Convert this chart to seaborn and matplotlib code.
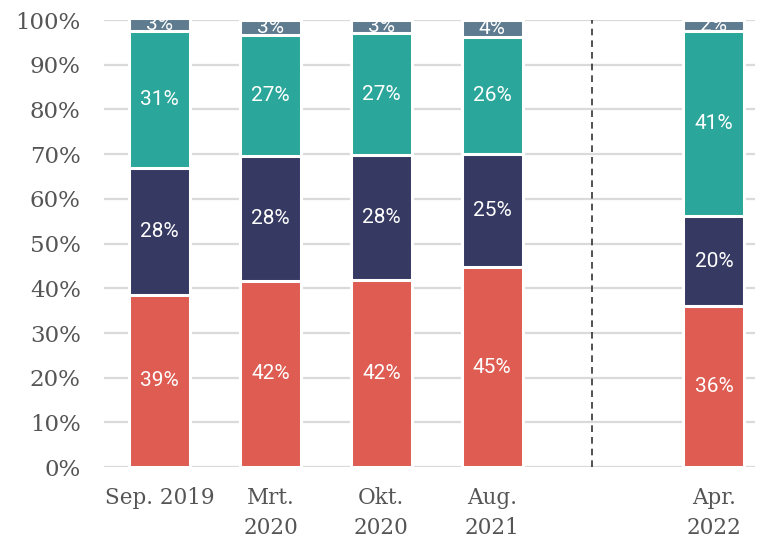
import numpy as np
import pandas as pd
import seaborn as sns
import matplotlib.pyplot as plt

# data
periods = ["Sep. 2019", "Mrt.\n2020", "Okt.\n2020", "Aug.\n2021", "", "Apr.\n2022"]
bar_periods = ["Sep. 2019", "Mrt.\n2020", "Okt.\n2020", "Aug.\n2021", "Apr.\n2022"]
red_vals = [38.6, 41.7, 41.8, 44.7, 36.0]
navy_vals = [28.4, 28.0, 28.0, 25.4, 20.2]
teal_vals = [30.6, 26.9, 27.3, 26.1, 41.3]
slate_vals = [2.9, 3.4, 2.9, 3.8, 2.5]

layers = [red_vals, navy_vals, teal_vals, slate_vals]
colors = ["#DE5C51", "#363962", "#2AA69A", "#5E7B8F"]

sns.set_theme(style="white")
fig = plt.figure(figsize=(7.61, 5.42), dpi=100)
ax = fig.add_axes([0.137, 0.138, 0.855, 0.825])

# gridlines behind bars
for yv in range(0, 101, 10):
    ax.axhline(yv, color="#DADADA", lw=1.6, zorder=0)

cum = np.cumsum(np.array(layers), axis=0)
# draw cumulative bars from the top layer down so lower layers overlay
for i in range(len(layers) - 1, -1, -1):
    df = pd.DataFrame({"period": bar_periods, "value": cum[i]})
    sns.barplot(data=df, x="period", y="value", order=periods, color=colors[i],
                width=0.55, edgecolor="white", linewidth=2.2, saturation=1,
                ax=ax, zorder=2)

# value labels
pos = {p: periods.index(p) for p in bar_periods}
for i, vals in enumerate(layers):
    base = cum[i] - np.array(vals)
    for j, p in enumerate(bar_periods):
        ax.text(pos[p], base[j] + vals[j] / 2, f"{vals[j]:.0f}%", ha="center", va="center",
                color="white", fontsize=15, family="Roboto", zorder=3, clip_on=True)

ax.axvline(3.9, color="#333333", lw=1.2, ls=(0, (4, 3)), zorder=1)

ax.set_ylim(0, 100)
ax.set_xlim(-0.5, 5.37)
ax.set_yticks(range(0, 101, 10))
ax.set_yticklabels([f"{v}%" for v in range(0, 101, 10)])
ax.set_xlabel("")
ax.set_ylabel("")
ax.tick_params(length=0, labelcolor="#555555")
ax.tick_params(axis="y", pad=17, labelsize=16.5)
ax.tick_params(axis="x", pad=14, labelsize=15.5)
for lab in ax.get_xticklabels() + ax.get_yticklabels():
    lab.set_family("DejaVu Serif")
    lab.set_fontweight("light")
for lab in ax.get_xticklabels():
    lab.set_linespacing(1.5)
sns.despine(ax=ax, left=True, bottom=True)

fig.savefig("out.png", dpi=100)
